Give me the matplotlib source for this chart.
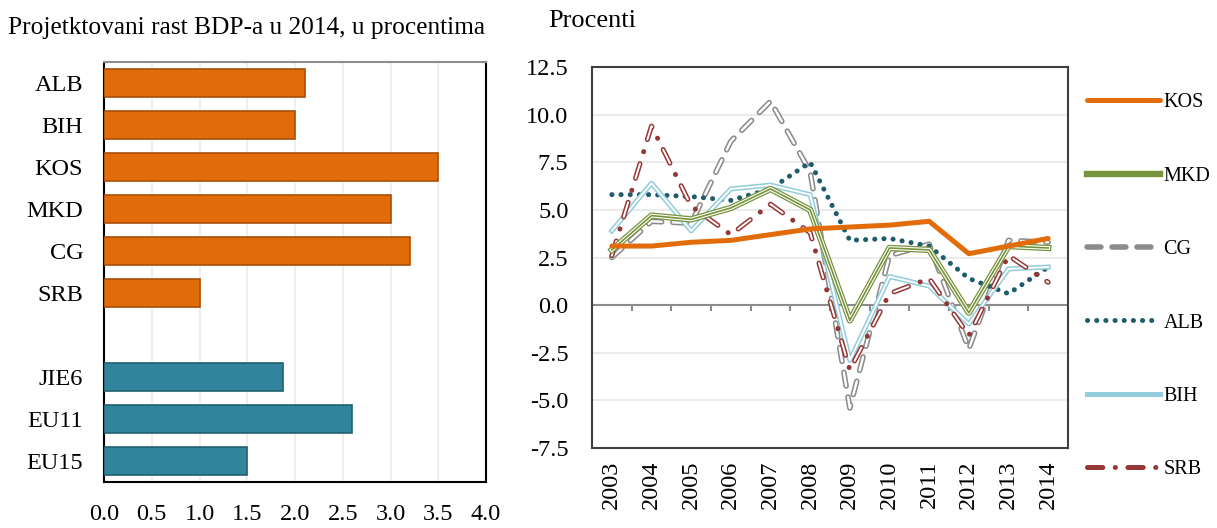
import matplotlib.pyplot as plt
import numpy as np

plt.rcParams['font.family'] = ['Liberation Serif', 'DejaVu Serif']
plt.rcParams['lines.scale_dashes'] = False

# left panel data
bar_labels = ['ALB', 'BIH', 'KOS', 'MKD', 'CG', 'SRB', '', 'JIE6', 'EU11', 'EU15']
bar_values = [2.1, 2.0, 3.5, 3.0, 3.2, 1.0, 0.0, 1.87, 2.6, 1.5]
bar_group = ['wb', 'wb', 'wb', 'wb', 'wb', 'wb', 'none', 'eu', 'eu', 'eu']

# right panel data
years = [str(y) for y in range(2003, 2015)]
kos = [3.1, 3.1, 3.3, 3.4, 3.7, 4.0, 4.1, 4.2, 4.4, 2.7, 3.1, 3.5]
mkd = [2.9, 4.7, 4.5, 5.1, 6.1, 5.0, -0.8, 3.0, 2.9, -0.4, 3.1, 3.0]
cg = [2.5, 4.4, 4.3, 8.6, 10.7, 7.0, -5.4, 2.6, 3.2, -2.3, 3.4, 3.3]
alb = [5.8, 5.8, 5.7, 5.5, 6.1, 7.5, 3.4, 3.5, 3.1, 1.4, 0.6, 2.0]
bih = [3.9, 6.4, 3.9, 6.1, 6.3, 5.8, -2.9, 1.5, 1.0, -1.0, 1.9, 2.0]
srb = [2.6, 9.4, 5.2, 3.7, 5.3, 3.8, -3.4, 0.6, 1.4, -1.6, 2.6, 1.2]

orange = '#E36C0A'
teal = '#31849B'
fs = 17.5

fig = plt.figure(figsize=(12.17, 5.28), dpi=100)

#%% left: bars
ax1 = fig.add_axes([104/1217, 1 - 482/528, 382/1217, 420/528])
pos = np.arange(len(bar_labels))
for i, (v, g) in enumerate(zip(bar_values, bar_group)):
    if g == 'none':
        continue
    fc = orange if g == 'wb' else teal
    ec = '#A94F08' if g == 'wb' else '#22606F'
    ax1.barh(pos[i], v, height=0.67, color=fc, edgecolor=ec, linewidth=1.2, zorder=3)
ax1.set_ylim(9.5, -0.5)
ax1.set_xlim(0, 4)
ax1.set_yticks(pos)
ax1.set_yticklabels(bar_labels)
ax1.set_xticks(np.arange(0, 4.01, 0.5))
ax1.set_xticklabels([f'{v:.1f}' for v in np.arange(0, 4.01, 0.5)], fontsize=18)
ax1.xaxis.grid(True, color='#EBEBEB', lw=1.2, zorder=0)
ax1.tick_params(axis='both', length=0, labelsize=fs)
ax1.tick_params(axis='x', pad=16)
ax1.tick_params(axis='y', pad=15)
for s in ['left', 'bottom', 'right']:
    ax1.spines[s].set_color('black')
    ax1.spines[s].set_linewidth(1.5)
ax1.spines['top'].set_color('#8C8C8C')
ax1.spines['top'].set_linewidth(1.5)
fig.text(8/1217, 1 - 28/528, 'Projetktovani rast BDP-a u 2014, u procentima',
         fontsize=18.3, va='center', ha='left')

#%% right: lines
ax2 = fig.add_axes([592/1217, 1 - 448/528, 476/1217, 381/528])
x = np.arange(len(years))

ax2.plot(x, kos, color=orange, lw=3.6, label='KOS', zorder=6, solid_capstyle='round')

ax2.plot(x, mkd, color='#77933C', lw=4.6, label='MKD', zorder=5)
ax2.plot(x, mkd, color='white', lw=2.8, zorder=5)
ax2.plot(x, mkd, color='#77933C', lw=1.2, zorder=5)

ax2.plot(x, cg, color='#8C8C8C', lw=4.0, ls=(0, (10, 8)), dash_capstyle='round', label='CG', zorder=3)
ax2.plot(x, cg, color='white', lw=1.7, ls=(0, (10, 8)), dash_capstyle='round', zorder=3)

ax2.plot(x, alb, color='#1F5C6E', lw=3.6, ls=(0, (0.1, 6.5)), dash_capstyle='round', label='ALB', zorder=4)

ax2.plot(x, bih, color='#92CDDC', lw=3.6, label='BIH', zorder=4)
ax2.plot(x, bih, color='white', lw=1.4, zorder=4)

ax2.plot(x, srb, color='#953735', lw=3.6, ls=(0, (11, 9, 0.1, 9)), dash_capstyle='round', label='SRB', zorder=4)
ax2.plot(x, srb, color='white', lw=1.4, ls=(0, (11, 18.1)), dash_capstyle='round', zorder=4)

ax2.set_xlim(-0.5, 11.5)
ax2.set_ylim(-7.5, 12.5)
ax2.set_yticks(np.arange(-7.5, 12.51, 2.5))
ax2.set_yticklabels([f'{v:.1f}' for v in np.arange(-7.5, 12.51, 2.5)])
ax2.yaxis.grid(True, color='#EBEBEB', lw=1.5, zorder=0)
ax2.set_axisbelow(True)
ax2.axhline(0, color='#8C8C8C', lw=1.5, zorder=2)
ax2.vlines(np.arange(0.5, 11.5), -0.32, 0, color='#8C8C8C', lw=1.5, zorder=2)
ax2.set_xticks(x)
ax2.set_xticklabels(years, rotation=90, fontsize=19)
ax2.tick_params(axis='both', length=0, labelsize=fs)
ax2.tick_params(axis='x', pad=9)
ax2.tick_params(axis='y', pad=17)
for s in ax2.spines.values():
    s.set_color('#404040')
    s.set_linewidth(1.5)
fig.text(548/1217, 1 - 21/528, 'Procenti', fontsize=19, va='center', ha='left')

leg = ax2.legend(loc='upper left', bbox_to_anchor=(1087/1217, 1 - 93/528),
                 bbox_transform=fig.transFigure, frameon=False, fontsize=14.5,
                 handlelength=3.6, handletextpad=0.2, labelspacing=2.70,
                 borderpad=0, borderaxespad=0)

fig.savefig('out.png', dpi=100)
